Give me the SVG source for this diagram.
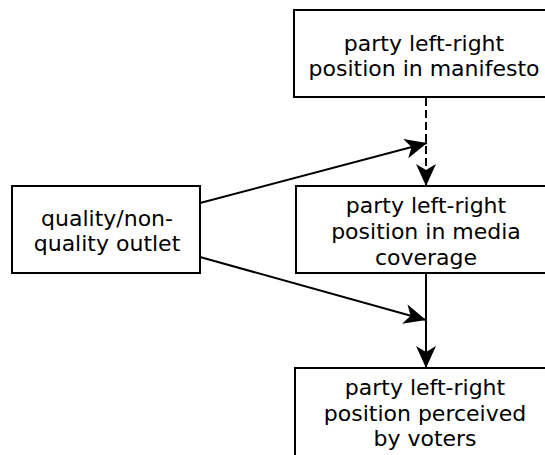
<svg xmlns="http://www.w3.org/2000/svg" width="545" height="455" viewBox="0 0 545 455">
<style>
.box{fill:#fff;stroke:#000;stroke-width:2}
.lbl{font-family:"DejaVu Sans",sans-serif;font-size:22px;fill:#000;text-anchor:middle}
.edge{stroke:#000;stroke-width:2;fill:none}
</style>
<defs>
<marker id="ah" markerUnits="userSpaceOnUse" markerWidth="24" markerHeight="20" refX="22" refY="10" orient="auto">
<path d="M0,0 L22,10 L0,20 L6,10 Z" fill="#000"/>
</marker>
</defs>
<rect width="545" height="455" fill="#fff"/>
<g id="connectors">
<line class="edge" x1="426" y1="98" x2="426" y2="186" stroke-dasharray="8,4" marker-end="url(#ah)"/>
<line class="edge" x1="200" y1="203" x2="427" y2="143" marker-end="url(#ah)"/>
<line class="edge" x1="200" y1="257" x2="426" y2="320" marker-end="url(#ah)"/>
<line class="edge" x1="426" y1="273" x2="426" y2="368" marker-end="url(#ah)"/>
</g>
<g id="manifesto">
<rect class="box" x="294" y="10" width="266" height="87"/>
<text class="lbl" x="424" y="51">party left-right</text>
<text class="lbl" x="424" y="76">position in manifesto</text>
</g>
<g id="outlet">
<rect class="box" x="12" y="186" width="188" height="87"/>
<text class="lbl" x="107" y="226">quality/non-</text>
<text class="lbl" x="107" y="251">quality outlet</text>
</g>
<g id="media">
<rect class="box" x="296" y="186" width="264" height="87"/>
<text class="lbl" x="426" y="213">party left-right</text>
<text class="lbl" x="426" y="239">position in media</text>
<text class="lbl" x="426" y="265">coverage</text>
</g>
<g id="voters">
<rect class="box" x="295" y="368" width="265" height="100"/>
<text class="lbl" x="425" y="395">party left-right</text>
<text class="lbl" x="425" y="421">position perceived</text>
<text class="lbl" x="425" y="446">by voters</text>
</g>
</svg>
